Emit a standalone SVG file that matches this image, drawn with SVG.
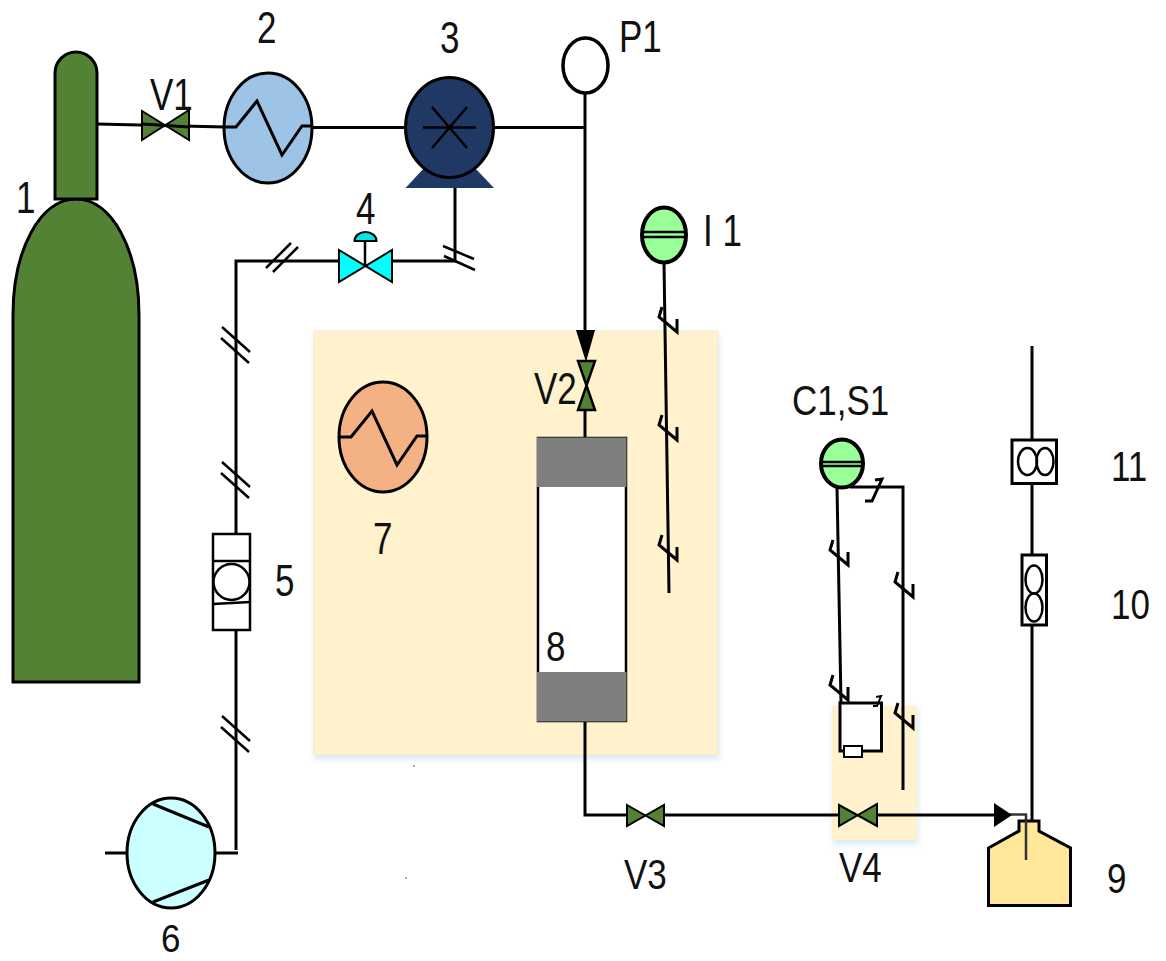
<svg xmlns="http://www.w3.org/2000/svg" width="1166" height="961" viewBox="0 0 1166 961">
<style>
.l{fill:none;stroke:#000;stroke-width:3}
.t{fill:none;stroke:#000;stroke-width:2.500}
.s{stroke:#000;stroke-width:3}
.g{fill:#548235}
.lab{font-family:"Liberation Sans",Arial,sans-serif;font-size:35px;fill:#111}
</style>
<defs>
<filter id="sh" x="-10%" y="-10%" width="120%" height="120%"><feGaussianBlur stdDeviation="3"/></filter>
<g id="brk"><polyline class="l" points="-5,-15 -8,-5 10,10 10,-3"/></g>
<g id="dbl"><path class="t" d="M-14,-18 14,7M-15,-7 13,18"/></g>
</defs>

<g id="backgrounds">
<rect x="315" y="335" width="404" height="424" fill="#bdd7ee" opacity=".6" filter="url(#sh)"/>
<rect x="314" y="331" width="404" height="424" fill="#fff2cc" stroke="#fbe5d6" stroke-width="1"/>
<rect x="833" y="709" width="85" height="135" fill="#bdd7ee" opacity=".6" filter="url(#sh)"/>
<rect x="832" y="706" width="85" height="134" fill="#fff2cc"/>
<circle cx="414" cy="766" r="1" fill="#5b9bd5"/>
<circle cx="406" cy="878" r="1" fill="#5b9bd5"/>
</g>

<g id="connectors">
<path class="l" d="M97,124 225,127"/>
<path class="l" d="M312,127.500H405"/>
<path class="l" d="M494,127.500H585M585,93V332M585,410V438"/>
<path class="l" d="M455,182V261H392M339,261H236V534"/>
<path class="l" d="M236,630V850"/>
<path class="l" d="M105,853H127M214,853H238"/>
<path class="l" d="M664,263 669,593"/>
<path class="l" d="M837,487 841,703"/>
<path class="l" d="M850,487H903V790"/>
<path class="l" d="M585,721V815H626M665,815H838M878,815H1000"/>
<path d="M1000,814.500H1026V860" fill="none" stroke="#333" stroke-width="2.500"/>
<path class="l" d="M1032,346V439M1032,484V554M1032,625V822"/>
<polygon points="576,330 595,330 586,362" fill="#000"/>
<polygon points="994,803 1012,815 994,827" fill="#000"/>
<path class="t" d="M266,268 291,243M273,272 298,247"/>
<path class="t" d="M443,246 474,259M444,256 475,270"/>
<use href="#dbl" x="236" y="345"/>
<use href="#dbl" x="236" y="480"/>
<use href="#dbl" x="236" y="734"/>
<use href="#brk" x="667" y="322"/>
<use href="#brk" x="667" y="430"/>
<use href="#brk" x="667" y="550"/>
<use href="#brk" x="838" y="555"/>
<use href="#brk" x="838" y="690"/>
<use href="#brk" x="903" y="587"/>
<use href="#brk" x="903" y="718"/>
<polyline class="l" points="875,480 882,479 872,501 865,501"/>
</g>

<g id="node-1">
<path class="s g" d="M13,682V315C13,250 40,199 76,199C112,199 139,250 139,315V682Z"/>
<path class="s g" d="M55,199V73A21,21 0 0 1 97,73V199Z"/>
<text class="lab" transform="translate(16,213) scale(1,1.250)">1</text>
</g>
<g id="node-V1">
<path class="g" stroke="#000" stroke-width="2" d="M142,111 189,140V110L142,140Z"/>
<path class="l" d="M142,124 189,127"/>
<text class="lab" transform="translate(150,110) scale(1,1.250)">V1</text>
</g>
<g id="node-2">
<ellipse class="s" cx="268" cy="128" rx="44" ry="55" fill="#9dc3e6"/>
<polyline class="l" points="225,127 236,127 257,101 282,155 302,126 312,126"/>
<text class="lab" transform="translate(257,43) scale(1,1.250)">2</text>
</g>
<g id="node-3">
<polygon points="405.500,188 494,188 474,167 425,167" fill="#1f3864"/>
<ellipse class="s" cx="449.500" cy="127.500" rx="44" ry="50" fill="#1f3864" stroke-width="3.500"/>
<path class="t" d="M423,127.500H476M432,107 467,148M467,107 432,148"/>
<text class="lab" transform="translate(440,53) scale(1,1.250)">3</text>
</g>
<g id="node-P1">
<ellipse cx="585.500" cy="65.500" rx="22.500" ry="27.500" fill="#fff" stroke="#000" stroke-width="3.500"/>
<text class="lab" transform="translate(619,52) scale(1,1.250)">P1</text>
</g>
<g id="node-4">
<path fill="#00ffff" stroke="#000" stroke-width="2" d="M339,250 392,282V250L339,282Z"/>
<path class="t" d="M365,240V266"/>
<path d="M354.500,241A11,9 0 0 1 376.500,241Z" fill="#00e5e5" stroke="#000" stroke-width="2"/>
<text class="lab" transform="translate(356,224) scale(1,1.250)">4</text>
</g>
<g id="node-I1">
<ellipse cx="664" cy="235" rx="22" ry="27.500" fill="#99ff99" stroke="#000" stroke-width="4"/>
<path class="t" d="M643,232H685M643,237H685"/>
<text class="lab" transform="translate(703,246) scale(1,1.250)">I 1</text>
</g>
<g id="node-V2">
<path class="g" stroke="#000" stroke-width="2.500" d="M578,361H595L578,410H595Z"/>
<text class="lab" transform="translate(534,404) scale(1,1.250)">V2</text>
</g>
<g id="node-7">
<ellipse class="s" cx="383" cy="437" rx="44" ry="55" fill="#f4b183"/>
<polyline class="l" points="340,437 351,437 372,411 397,465 417,436 427,436"/>
<text class="lab" transform="translate(373,554) scale(1,1.250)">7</text>
</g>
<g id="node-8">
<rect x="538" y="438" width="88" height="283" fill="#fff" stroke="#000" stroke-width="2.500"/>
<rect x="537" y="437.500" width="89.500" height="49.500" fill="#7f7f7f"/>
<rect x="537" y="672" width="89.500" height="49.500" fill="#7f7f7f"/>
<text class="lab" transform="translate(546,661) scale(1,1.200)">8</text>
</g>
<g id="node-5">
<rect x="213" y="534" width="37" height="96" fill="#fff" stroke="#000" stroke-width="2.500"/>
<path class="t" d="M213,561H250M213,604 250,602"/>
<circle cx="231.500" cy="582" r="18" fill="#fff" stroke="#000" stroke-width="2.500"/>
<text class="lab" transform="translate(275,596) scale(1,1.250)">5</text>
</g>
<g id="node-6">
<ellipse class="s" cx="171" cy="853" rx="44" ry="55" fill="#ccffff"/>
<path class="l" d="M153,804 209,827M153,902 209,880"/>
<text class="lab" transform="translate(161,952) scale(1,1.100)">6</text>
</g>
<g id="node-C1S1">
<ellipse cx="842" cy="463.500" rx="21" ry="24" fill="#99ff99" stroke="#000" stroke-width="4"/>
<path class="t" d="M822,462H862M822,466H862"/>
<text class="lab" transform="translate(792,415) scale(1,1.200)">C1,S1</text>
</g>
<g id="node-box">
<rect x="840" y="703" width="41.500" height="48" fill="#fff" stroke="#000" stroke-width="3"/>
<rect x="844" y="746" width="18" height="11" fill="#fff" stroke="#000" stroke-width="2"/>
<polyline fill="none" stroke="#000" stroke-width="2" points="876,697 881,696 877,706 873,706"/>
</g>
<g id="node-V3">
<path class="g" stroke="#000" stroke-width="2" d="M627,805 664,826V805L627,826Z"/>
<text class="lab" transform="translate(624,889) scale(1,1.200)">V3</text>
</g>
<g id="node-V4">
<path class="g" stroke="#000" stroke-width="2" d="M839,805 877,826V804L839,826Z"/>
<text class="lab" transform="translate(839,882) scale(1,1.200)">V4</text>
</g>
<g id="node-9">
<polygon class="s" points="988.500,848 1019,831 1019,821 1039,821 1039,831 1070.500,848 1070.500,905.500 988.500,905.500" fill="#ffe699"/>
<path d="M1026,820V860" stroke="#333" stroke-width="2.500"/>
<text class="lab" transform="translate(1107,893) scale(1,1.200)">9</text>
</g>
<g id="node-10">
<rect x="1022" y="555" width="24.500" height="70" fill="#fff" stroke="#000" stroke-width="3"/>
<ellipse class="t" cx="1034" cy="579.500" rx="8.500" ry="14"/>
<ellipse class="t" cx="1034" cy="607.500" rx="8.500" ry="14"/>
<text class="lab" transform="translate(1111,619) scale(1,1.200)">10</text>
</g>
<g id="node-11">
<rect x="1012" y="440" width="44.500" height="43.500" fill="#fff" stroke="#000" stroke-width="3"/>
<ellipse class="t" cx="1027.500" cy="461.500" rx="9.500" ry="13.500"/>
<ellipse class="t" cx="1045" cy="461.500" rx="8.500" ry="13.500"/>
<text class="lab" transform="translate(1111,481) scale(1,1.200)">11</text>
</g>
</svg>
